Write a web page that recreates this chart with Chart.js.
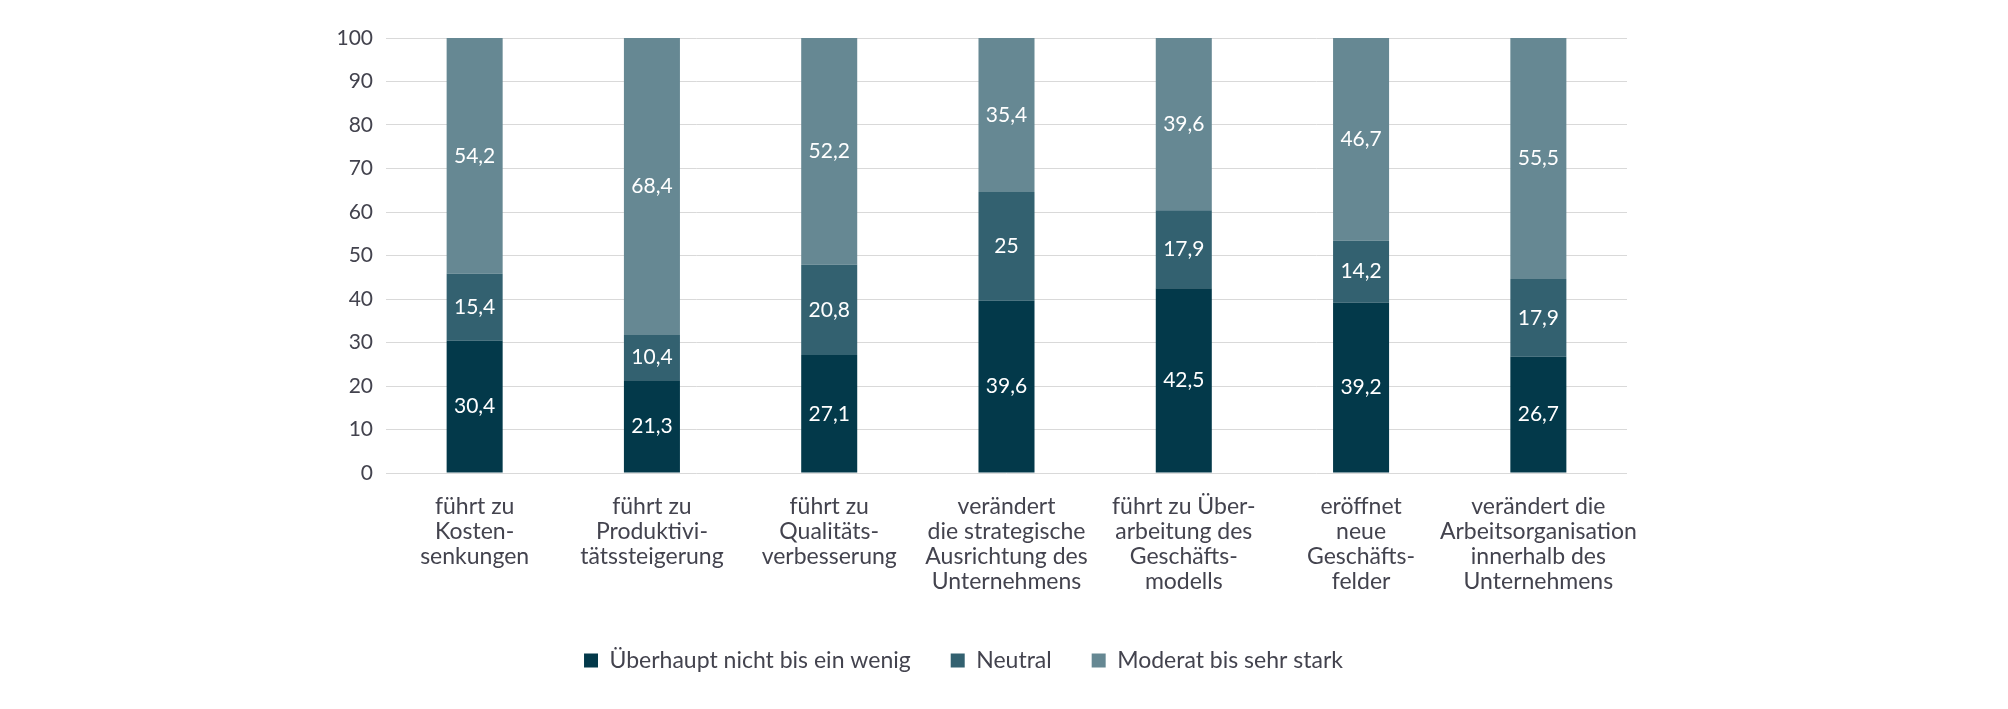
<!DOCTYPE html>
<html>
<head>
<meta charset="utf-8">
<script src="https://cdn.jsdelivr.net/npm/chart.js@4/dist/chart.umd.min.js"></script>
<style>
  html, body { margin: 0; padding: 0; background: #ffffff; }
  #wrap { width: 2008px; height: 709px; position: relative; }
</style>
</head>
<body>
<div id="wrap"><canvas id="c"></canvas></div>
<script>
const categories = [
  ["führt zu", "Kosten-", "senkungen"],
  ["führt zu", "Produktivi-", "tätssteigerung"],
  ["führt zu", "Qualitäts-", "verbesserung"],
  ["verändert", "die strategische", "Ausrichtung des", "Unternehmens"],
  ["führt zu Über-", "arbeitung des", "Geschäfts-", "modells"],
  ["eröffnet", "neue", "Geschäfts-", "felder"],
  ["verändert die", "Arbeitsorganisation", "innerhalb des", "Unternehmens"]
];
const seriesNames = ["Überhaupt nicht bis ein wenig", "Neutral", "Moderat bis sehr stark"];
const lowValues = [30.4, 21.3, 27.1, 39.6, 42.5, 39.2, 26.7];
const neutralValues = [15.4, 10.4, 20.8, 25, 17.9, 14.2, 17.9];
const highValues = [54.2, 68.4, 52.2, 35.4, 39.6, 46.7, 55.5];
const yTicks = [0, 10, 20, 30, 40, 50, 60, 70, 80, 90, 100];

const colors = ["#03394a", "#336170", "#668893"];
const textColor = "#43434e";
const fontFamily = "Lato, 'Open Sans', sans-serif";
const fontWeight = 400;

const valueLabels = {
  id: 'valueLabels',
  afterDatasetsDraw(chart) {
    const ctx = chart.ctx;
    ctx.save();
    ctx.fillStyle = '#ffffff';
    ctx.font = fontWeight + ' 21px ' + fontFamily;
    ctx.textAlign = 'center';
    ctx.textBaseline = 'middle';
    chart.data.datasets.forEach((ds, di) => {
      const meta = chart.getDatasetMeta(di);
      meta.data.forEach((bar, i) => {
        const v = ds.data[i];
        const p = bar.getProps(['x', 'y', 'base'], true);
        const cy = (p.y + p.base) / 2;
        ctx.fillText(String(v).replace('.', ','), p.x, cy);
      });
    });
    ctx.restore();
  }
};

new Chart(document.getElementById('c'), {
  type: 'bar',
  data: {
    labels: categories,
    datasets: [
      { label: seriesNames[0], data: lowValues, backgroundColor: colors[0] },
      { label: seriesNames[1], data: neutralValues, backgroundColor: colors[1] },
      { label: seriesNames[2], data: highValues, backgroundColor: colors[2] }
    ]
  },
  options: {
    responsive: true,
    maintainAspectRatio: false,
    animation: false,
    datasets: { bar: { categoryPercentage: 1.0, barPercentage: 0.316 } },
    layout: { padding: { left: 300, right: 381, top: 38, bottom: 27 } },
    plugins: {
      tooltip: { enabled: false },
      legend: {
        position: 'bottom',
        labels: {
          color: textColor,
          font: { family: fontFamily, size: 23, weight: fontWeight },
          boxWidth: 14,
          boxHeight: 14,
          padding: 40
        }
      }
    },
    scales: {
      x: {
        stacked: true,
        grid: { display: false, drawTicks: false },
        border: { display: false },
        ticks: {
          color: textColor,
          font: { family: fontFamily, size: 23, lineHeight: '25px', weight: fontWeight },
          padding: 21,
          maxRotation: 0,
          autoSkip: false
        },
        afterFit(s) { s.height = 136; }
      },
      y: {
        stacked: true,
        min: 0,
        max: 100,
        afterBuildTicks(s) { s.ticks = yTicks.map(v => ({ value: v })); },
        grid: { color: '#d9d9d9', lineWidth: 1, drawTicks: false },
        border: { display: false },
        ticks: {
          color: textColor,
          font: { family: fontFamily, size: 21, weight: fontWeight },
          padding: 13
        },
        afterFit(s) { s.width = 86; }
      }
    }
  },
  plugins: [valueLabels]
});
</script>
</body>
</html>
